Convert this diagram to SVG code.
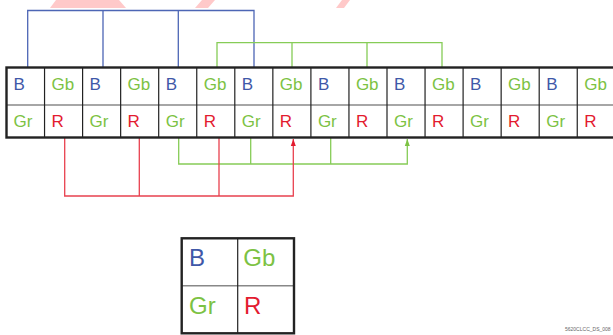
<svg xmlns="http://www.w3.org/2000/svg" width="613" height="335" viewBox="0 0 613 335">
<defs>
<style>
.t{font-family:"Liberation Sans",Arial,sans-serif;font-size:17px}
.L{font-family:"Liberation Sans",Arial,sans-serif;font-size:24px}
.b{fill:#3F58A8}.g{fill:#7CC243}.r{fill:#E31B2F}
.cl{stroke:#222;stroke-width:1.2;fill:none}
.rl{stroke:#888;stroke-width:1.5;fill:none}
.ob{stroke:#222;stroke-width:2.4;fill:none}
.cb{stroke:#4D66B5;stroke-width:1.3;fill:none}
.cg{stroke:#86CC57;stroke-width:1.3;fill:none}
.cr{stroke:#E8414F;stroke-width:1.3;fill:none}
.wm{fill:#FFC9C9}
</style>
<marker id="ag" viewBox="0 0 6 7" refX="3" refY="0" markerWidth="6" markerHeight="7" markerUnits="userSpaceOnUse" orient="0"><path d="M0.5,7 L3,0 L5.5,7 Z" fill="#7CC243"/></marker>
<marker id="ar" viewBox="0 0 6 7" refX="3" refY="0" markerWidth="6" markerHeight="7" markerUnits="userSpaceOnUse" orient="0"><path d="M0.5,7 L3,0 L5.5,7 Z" fill="#E31B2F"/></marker>
</defs>
<rect width="613" height="335" fill="#fff"/>
<g id="watermark">
<polygon class="wm" points="56,0 119,0 126,8 50,8"/>
<polygon class="wm" points="202,0 215,0 208,8 195,8"/>
<polygon class="wm" points="342,0 350,0 344,8 336,8"/>
</g>
<g id="connectors">
<path class="cb" d="M27.7,67 V10.5 H254 V67 M103,10.5 V67 M178.3,10.5 V67"/>
<path class="cg" d="M217,67 V42.7 H442 V67 M292,42.7 V67 M367,42.7 V67"/>
<path class="cg" d="M178.7,138 V164 H407.3 V139" marker-end="url(#ag)"/>
<path class="cg" d="M250.7,138 V164 M330.7,138 V164"/>
<path class="cr" d="M64.7,138 V196 H293.3 V139" marker-end="url(#ar)"/>
<path class="cr" d="M139.3,138 V196 M219,138 V196"/>
</g>
<g id="grid">
<path class="rl" d="M6.5,105 H615"/>
<path class="cl" d="M44.55,67.5 V137.5 M82.6,67.5 V137.5 M120.65,67.5 V137.5 M158.7,67.5 V137.5 M196.75,67.5 V137.5 M234.8,67.5 V137.5 M272.85,67.5 V137.5 M310.9,67.5 V137.5 M348.95,67.5 V137.5 M387,67.5 V137.5 M425.05,67.5 V137.5 M463.1,67.5 V137.5 M501.15,67.5 V137.5 M539.2,67.5 V137.5 M577.25,67.5 V137.5"/>
<rect class="ob" x="6.5" y="67.5" width="610" height="70"/>
</g>
<g id="cells">
<text class="t b" x="13.5" y="89.5">B</text><text class="t g" x="51.5" y="89.5">Gb</text>
<text class="t b" x="89.6" y="89.5">B</text><text class="t g" x="127.6" y="89.5">Gb</text>
<text class="t b" x="165.7" y="89.5">B</text><text class="t g" x="203.7" y="89.5">Gb</text>
<text class="t b" x="241.8" y="89.5">B</text><text class="t g" x="279.8" y="89.5">Gb</text>
<text class="t b" x="317.9" y="89.5">B</text><text class="t g" x="355.9" y="89.5">Gb</text>
<text class="t b" x="394" y="89.5">B</text><text class="t g" x="432" y="89.5">Gb</text>
<text class="t b" x="470.1" y="89.5">B</text><text class="t g" x="508.1" y="89.5">Gb</text>
<text class="t b" x="546.2" y="89.5">B</text><text class="t g" x="584.2" y="89.5">Gb</text>
<text class="t g" x="13.5" y="126.5">Gr</text><text class="t r" x="51.5" y="126.5">R</text>
<text class="t g" x="89.6" y="126.5">Gr</text><text class="t r" x="127.6" y="126.5">R</text>
<text class="t g" x="165.7" y="126.5">Gr</text><text class="t r" x="203.7" y="126.5">R</text>
<text class="t g" x="241.8" y="126.5">Gr</text><text class="t r" x="279.8" y="126.5">R</text>
<text class="t g" x="317.9" y="126.5">Gr</text><text class="t r" x="355.9" y="126.5">R</text>
<text class="t g" x="394" y="126.5">Gr</text><text class="t r" x="432" y="126.5">R</text>
<text class="t g" x="470.1" y="126.5">Gr</text><text class="t r" x="508.1" y="126.5">R</text>
<text class="t g" x="546.2" y="126.5">Gr</text><text class="t r" x="584.2" y="126.5">R</text>
</g>
<g id="legend">
<path class="rl" d="M181.7,285.7 H294"/>
<path class="cl" d="M237.7,238.3 V333.3"/>
<rect class="ob" x="181.7" y="238.3" width="112.3" height="95"/>
<text class="L b" x="189" y="265.7">B</text>
<text class="L g" x="243.3" y="265.7">Gb</text>
<text class="L g" x="189" y="314">Gr</text>
<text class="L r" x="244" y="314">R</text>
</g>
<text x="565" y="331" font-family="Liberation Sans, Arial, sans-serif" font-size="5" fill="#666">5620CLCC_DS_008</text>
</svg>
